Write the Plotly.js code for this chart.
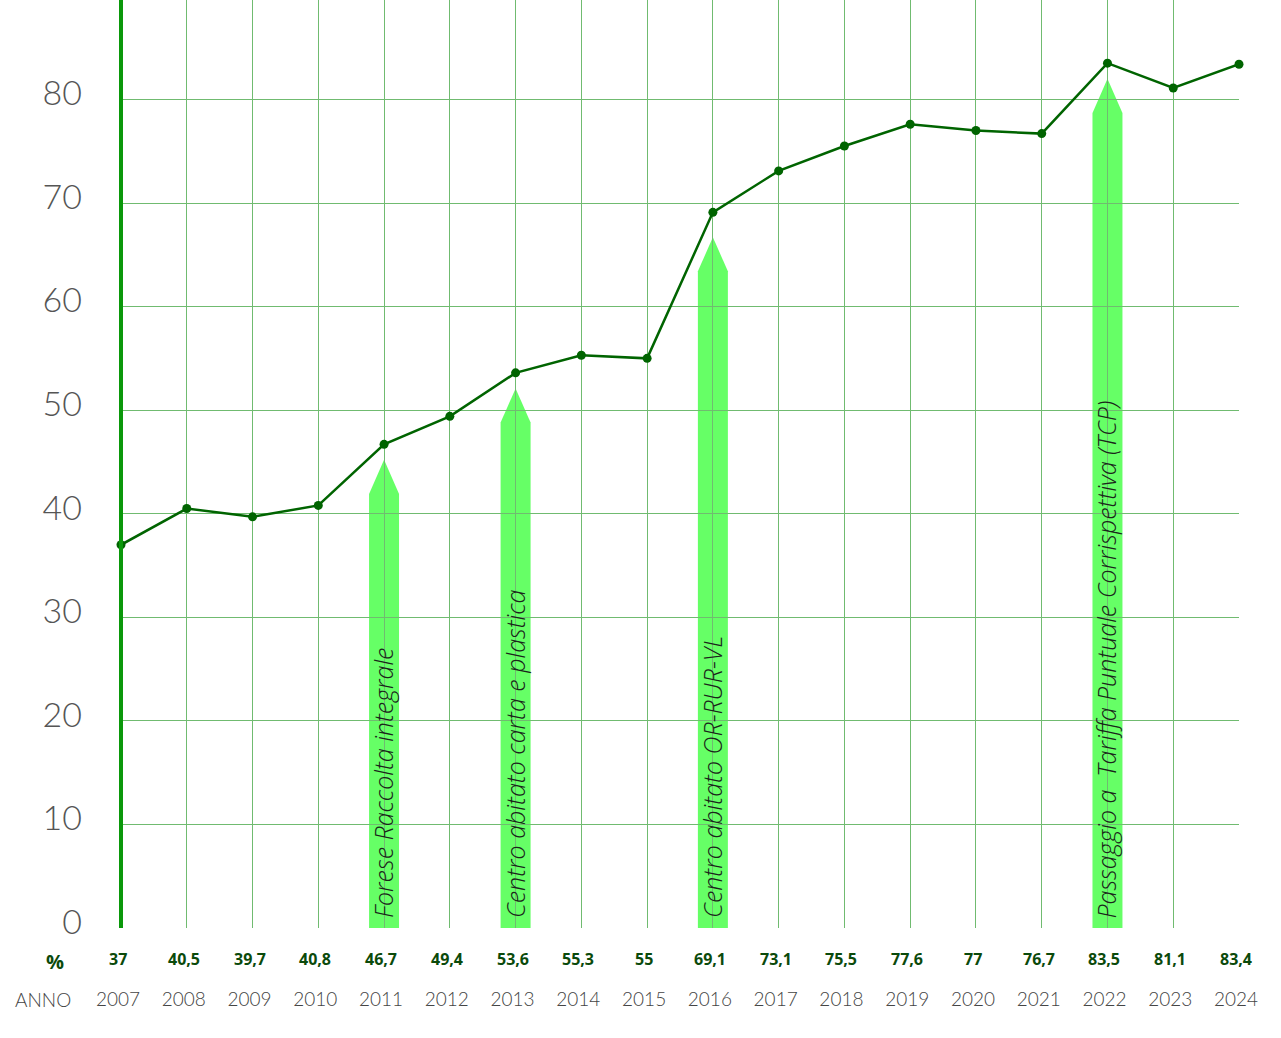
<!DOCTYPE html>
<html>
<head>
<meta charset="utf-8">
<script src="https://cdn.plot.ly/plotly-3.0.1.min.js"></script>
<style>html,body{margin:0;padding:0;background:#fff}#chart{width:1281px;height:1038px}</style>
</head>
<body>
<div id="chart"></div>
<script>
// ---- data ----
const years = [2007,2008,2009,2010,2011,2012,2013,2014,2015,2016,2017,2018,2019,2020,2021,2022,2023,2024];
const values = [37,40.5,39.7,40.8,46.7,49.4,53.6,55.3,55,69.1,73.1,75.5,77.6,77,76.7,83.5,81.1,83.4];
const valueLabels = ["37","40,5","39,7","40,8","46,7","49,4","53,6","55,3","55","69,1","73,1","75,5","77,6","77","76,7","83,5","81,1","83,4"];
const eventYears = [2011, 2013, 2016, 2022];
const eventTips = [45.2, 52.1, 66.7, 82.0];
const eventLabels = ["Forese Raccolta integrale", "Centro abitato carta e plastica", "Centro abitato OR-RUR-VL", "Passaggio a  Tariffa Puntuale Corrispettiva (TCP)"];
const yTicks = [0,10,20,30,40,50,60,70,80];

// ---- styling ----
const gridColor = '#70bb70';
const arrowColor = '#66ff66';
const halfW = 0.228;   // half arrow width in years
const headH = 3.3;     // arrow head height in % units

const shapes = eventYears.map((yr, i) => {
  const t = eventTips[i], s = t - headH;
  return {
    type: 'path', xref: 'x', yref: 'y', layer: 'below',
    path: `M ${yr-halfW} 0 L ${yr-halfW} ${s} L ${yr} ${t} L ${yr+halfW} ${s} L ${yr+halfW} 0 Z`,
    fillcolor: arrowColor, line: {width: 0}
  };
});
// thick left axis line
shapes.push({type:'line', xref:'paper', yref:'paper', x0:0, x1:0, y0:0, y1:1,
  line:{color:'#0a980a', width:4}, layer:'above'});

const annotations = [];
eventYears.forEach((yr, i) => {
  annotations.push({
    x: yr, y: 0, xref: 'x', yref: 'y', text: eventLabels[i], showarrow: false,
    textangle: -90, xanchor: 'center', yanchor: 'bottom', yshift: 8, xshift: -1,
    font: {family: '"Open Sans", Lato, sans-serif', size: 25, color: '#1a261a', style: 'italic', weight: 300}
  });
});
years.forEach((yr, i) => {
  annotations.push({
    x: yr, y: 0, xref: 'x', yref: 'paper', text: '<b>' + valueLabels[i] + '</b>', showarrow: false,
    yanchor: 'middle', xanchor: 'center', yshift: -31, xshift: -3,
    font: {family: '"Open Sans", "Noto Sans", sans-serif', size: 16, color: '#0b4a0b'}
  });
});
annotations.push({x: 0, y: 0, xref: 'paper', yref: 'paper', text: '<b>%</b>', showarrow: false,
  xanchor: 'center', yanchor: 'middle', xshift: -66, yshift: -33,
  font: {family: '"Open Sans", sans-serif', size: 20, color: '#0b4a0b'}});
annotations.push({x: 0, y: 0, xref: 'paper', yref: 'paper', text: 'ANNO', showarrow: false,
  xanchor: 'center', yanchor: 'middle', xshift: -78, yshift: -71,
  font: {family: 'Lato, sans-serif', size: 19, color: '#444', weight: 300}});

const trace = {
  x: years, y: values, type: 'scatter', mode: 'lines+markers',
  line: {color: '#006400', width: 2.5},
  marker: {color: '#006400', size: 9},
  cliponaxis: false, hoverinfo: 'skip'
};

const layout = {
  width: 1281, height: 1038,
  margin: {l: 121, r: 42, t: 0, b: 110},
  paper_bgcolor: '#fff', plot_bgcolor: '#fff',
  showlegend: false,
  xaxis: {
    range: [2007, 2024], tickvals: years, ticktext: years.map(String),
    showgrid: true, gridcolor: gridColor, gridwidth: 1, zeroline: false,
    showline: false, ticks: '', ticklabelstandoff: 58, ticklabelshift: -3,
    tickfont: {family: 'Lato, sans-serif', size: 19, color: '#444', weight: 300}
  },
  yaxis: {
    range: [0, 89.6], tickvals: yTicks, ticktext: yTicks.map(String),
    showgrid: true, gridcolor: gridColor, gridwidth: 1, zeroline: false,
    showline: false, ticks: '', ticklabelstandoff: 38, ticklabelshift: -6,
    tickfont: {family: 'Lato, sans-serif', size: 34, color: '#555', weight: 300}
  },
  shapes: shapes,
  annotations: annotations
};

Plotly.newPlot('chart', [trace], layout, {displayModeBar: false, staticPlot: true});
</script>
</body>
</html>
